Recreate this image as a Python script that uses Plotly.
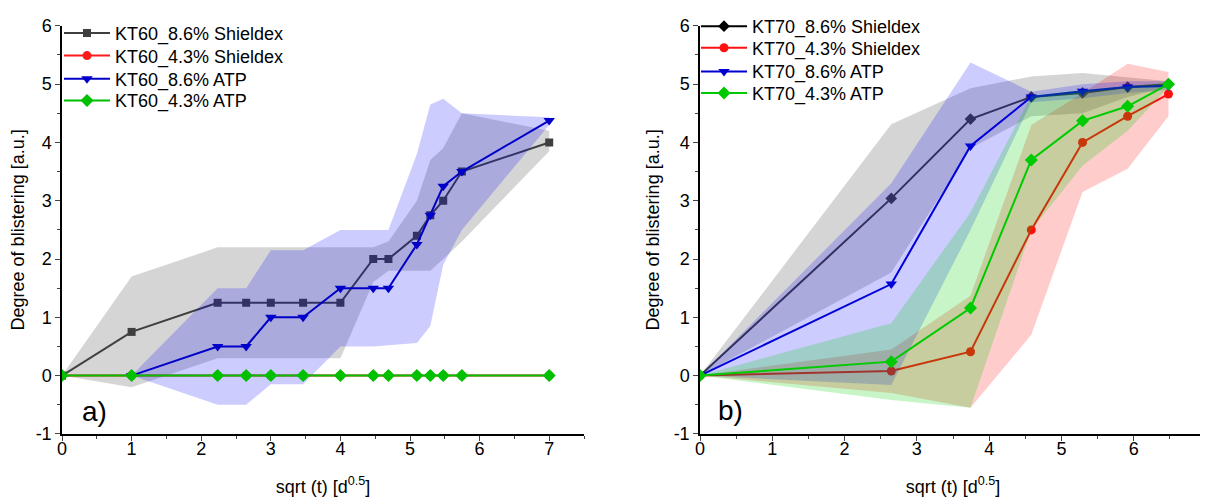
import plotly.graph_objects as go

# The page body has an 8px margin, so the figure is laid out 8px up/left of the reference pixels.
W, H = 1200, 489
OFF = 8

# ---------------- left panel (KT60) ----------------
x_left = [0, 1, 2.236, 2.646, 3, 3.464, 4, 4.472, 4.690, 5.099, 5.292, 5.477, 5.745, 7]
kt60_86_shieldex = [0, 0.75, 1.25, 1.25, 1.25, 1.25, 1.25, 2.0, 2.0, 2.4, 2.75, 3.0, 3.5, 4.0]
kt60_86_shieldex_up = [0, 1.7, 2.2, 2.2, 2.2, 2.2, 2.2, 2.2, 2.3, 3.0, 3.7, 3.9, 4.5, 4.2]
kt60_86_shieldex_lo = [0, -0.2, 0.3, 0.3, 0.3, 0.3, 0.3, 1.6, 1.8, 1.8, 1.8, 2.0, 2.3, 3.85]
kt60_43_shieldex = [0, 0, 0, 0, 0, 0, 0, 0, 0, 0, 0, 0, 0, 0]

x_left_atp86 = [1, 2.236, 2.646, 3, 3.464, 4, 4.472, 4.690, 5.099, 5.292, 5.477, 5.745, 7]
kt60_86_atp = [0, 0.5, 0.5, 1.0, 1.0, 1.5, 1.5, 1.5, 2.25, 2.75, 3.25, 3.5, 4.375]
kt60_86_atp_up = [0, 1.5, 1.5, 2.15, 2.15, 2.5, 2.5, 2.5, 3.8, 4.65, 4.75, 4.5, 4.43]
kt60_86_atp_lo = [0, -0.5, -0.5, -0.15, -0.15, 0.5, 0.5, 0.52, 0.56, 0.85, 1.9, 2.5, 4.3]
kt60_43_atp = [0, 0, 0, 0, 0, 0, 0, 0, 0, 0, 0, 0, 0, 0]

# ---------------- right panel (KT70) ----------------
x_right = [0, 2.646, 3.742, 4.583, 5.292, 5.916, 6.481]
kt70_86_shieldex = [0, 3.04, 4.4, 4.78, 4.85, 4.95, 5.0]
kt70_86_shieldex_up = [0, 4.31, 4.93, 5.13, 5.19, 5.12, 5.05]
kt70_86_shieldex_lo = [0, 1.77, 3.9, 4.45, 4.5, 4.78, 4.95]
kt70_43_shieldex = [0, 0.08, 0.41, 2.5, 4.0, 4.45, 4.83]
kt70_43_shieldex_up = [0, 0.45, 1.37, 4.3, 4.85, 5.35, 5.21]
kt70_43_shieldex_lo = [0, -0.3, -0.55, 0.7, 3.15, 3.55, 4.45]
kt70_86_atp = [0, 1.57, 3.94, 4.78, 4.88, 4.95, 4.97]
kt70_86_atp_up = [0, 3.3, 5.37, 4.87, 5.0, 5.05, 5.05]
kt70_86_atp_lo = [0, -0.16, 2.5, 4.69, 4.76, 4.85, 4.9]
kt70_43_atp = [0, 0.24, 1.16, 3.7, 4.37, 4.62, 5.0]
kt70_43_atp_up = [0, 0.9, 2.8, 4.8, 4.9, 4.97, 5.03]
kt70_43_atp_lo = [0, -0.42, -0.55, 2.5, 3.6, 4.2, 4.95]

x_ticks = [0, 1, 2, 3, 4, 5, 6, 7]
y_ticks = [-1, 0, 1, 2, 3, 4, 5, 6]
y_ticktext = ["-1", "0", "1", "2", "3", "4", "5", "6"]

FONT = "Liberation Sans"
fig = go.Figure()


def band(x, up, lo, color, xa, ya):
    fig.add_trace(go.Scatter(
        x=list(x) + list(x)[::-1], y=list(up) + list(lo)[::-1],
        fill="toself", fillcolor=color, line=dict(width=0),
        mode="lines", hoverinfo="skip", showlegend=False,
        xaxis=xa, yaxis=ya))


def series(x, y, name, color, symbol, size, xa, ya, legend):
    fig.add_trace(go.Scatter(
        x=x, y=y, name=name, mode="lines+markers",
        line=dict(color=color, width=2),
        marker=dict(color=color, symbol=symbol, size=size),
        xaxis=xa, yaxis=ya, legend=legend))


GRAY_BAND = "rgba(150,150,150,0.40)"
RED_BAND = "rgba(255,0,0,0.20)"
BLUE_BAND = "rgba(0,0,255,0.20)"
GREEN_BAND = "rgba(0,210,0,0.22)"

# left panel: each series on its own overlaid layer (band under its line), stacked in order
band(x_left, kt60_86_shieldex_up, kt60_86_shieldex_lo, GRAY_BAND, "x", "y")
series(x_left, kt60_86_shieldex, "KT60_8.6% Shieldex", "#3f3f3f", "square", 8, "x", "y", "legend")
series(x_left, kt60_43_shieldex, "KT60_4.3% Shieldex", "#ff1a1a", "circle", 9, "x3", "y3", "legend2")
band(x_left_atp86, kt60_86_atp_up, kt60_86_atp_lo, BLUE_BAND, "x4", "y4")
series(x_left_atp86, kt60_86_atp, "KT60_8.6% ATP", "#0000c8", "triangle-down", 10, "x4", "y4", "legend3")
series(x_left, kt60_43_atp, "KT60_4.3% ATP", "#00c000", "diamond", 10, "x5", "y5", "legend4")

# right panel: line layer, then its band layer on top, for each series in order
series(x_right, kt70_86_shieldex, "KT70_8.6% Shieldex", "#000000", "diamond", 9, "x2", "y2", "legend5")
band(x_right, kt70_86_shieldex_up, kt70_86_shieldex_lo, GRAY_BAND, "x6", "y6")
series(x_right, kt70_43_shieldex, "KT70_4.3% Shieldex", "#ff1010", "circle", 9, "x7", "y7", "legend6")
band(x_right, kt70_43_shieldex_up, kt70_43_shieldex_lo, RED_BAND, "x8", "y8")
series(x_right, kt70_86_atp, "KT70_8.6% ATP", "#0000d0", "triangle-down", 10, "x9", "y9", "legend7")
band(x_right, kt70_86_atp_up, kt70_86_atp_lo, BLUE_BAND, "x10", "y10")
series(x_right, kt70_43_atp, "KT70_4.3% ATP", "#00c800", "diamond", 10, "x11", "y11", "legend8")
band(x_right, kt70_43_atp_up, kt70_43_atp_lo, GREEN_BAND, "x12", "y12")


def px_x(p):
    return (p - OFF) / W


def px_y(p):
    return 1 - (p - OFF) / H


ydom = [px_y(433), px_y(19)]
xdom_left = [px_x(62), px_x(584)]
xdom_right = [px_x(700), px_x(1206)]

common_x = dict(
    tickmode="array", tickvals=x_ticks, ticks="outside", ticklen=5, tickwidth=1.3,
    minor=dict(ticks="outside", ticklen=3, dtick=0.5, tickwidth=1.2),
    showline=True, linecolor="black", linewidth=1.5, showgrid=False, zeroline=False,
    tickfont=dict(size=18, color="black"), automargin=False, ticklabelstandoff=-7,
    title=dict(text="sqrt (t) [d<sup>0.5</sup>]", font=dict(size=18, color="black"), standoff=23),
)
common_y = dict(
    tickmode="array", tickvals=y_ticks, ticktext=y_ticktext, ticks="outside", ticklen=5, tickwidth=1.3,
    minor=dict(ticks="outside", ticklen=3, dtick=0.5, tickwidth=1.2),
    showline=True, linecolor="black", linewidth=1.5, showgrid=False, zeroline=False,
    tickfont=dict(size=18, color="black"), automargin=False, range=[-1, 6], domain=ydom,
    title=dict(text="Degree of blistering [a.u.]", font=dict(size=18, color="black"), standoff=9),
)

layout = dict(
    width=W, height=H, margin=dict(l=0, r=0, t=0, b=0),
    paper_bgcolor="white", plot_bgcolor="white",
    font=dict(family=FONT, size=18, color="black"),
    xaxis=dict(common_x, range=[0, 7.5], domain=xdom_left, anchor="y"),
    yaxis=dict(common_y, anchor="x"),
    xaxis2=dict(common_x, range=[0, 7], domain=xdom_right, anchor="y2"),
    yaxis2=dict(common_y, anchor="x2"),
    showlegend=True,
)

# hidden overlay layers
for n in (3, 4, 5):
    layout[f"xaxis{n}"] = dict(overlaying="x", range=[0, 7.5], domain=xdom_left, visible=False, anchor=f"y{n}")
    layout[f"yaxis{n}"] = dict(overlaying="y", range=[-1, 6], domain=ydom, visible=False, anchor=f"x{n}")
for n in range(6, 13):
    layout[f"xaxis{n}"] = dict(overlaying="x2", range=[0, 7], domain=xdom_right, visible=False, anchor=f"y{n}")
    layout[f"yaxis{n}"] = dict(overlaying="y2", range=[-1, 6], domain=ydom, visible=False, anchor=f"x{n}")

# one legend per row so rows sit exactly where the reference has them
left_rows = [26.5, 49.5, 73, 95]
right_rows = [19.5, 41.5, 65.5, 87.5]
for i, yy in enumerate(left_rows):
    key = "legend" if i == 0 else f"legend{i + 1}"
    layout[key] = dict(x=px_x(59), y=px_y(yy), xanchor="left", yanchor="middle",
                       bgcolor="rgba(0,0,0,0)", font=dict(size=18), itemwidth=46)
for i, yy in enumerate(right_rows):
    layout[f"legend{i + 5}"] = dict(x=px_x(696), y=px_y(yy), xanchor="left", yanchor="middle",
                                    bgcolor="rgba(0,0,0,0)", font=dict(size=18), itemwidth=46)

layout["annotations"] = [
    dict(text="a)", x=0.26, y=-0.62, xref="x", yref="y", xanchor="left", yanchor="middle",
         showarrow=False, font=dict(size=28, color="black")),
    dict(text="b)", x=0.22, y=-0.59, xref="x2", yref="y2", xanchor="left", yanchor="middle",
         showarrow=False, font=dict(size=28, color="black")),
]

fig.update_layout(**layout)
fig.write_html("out.html")
